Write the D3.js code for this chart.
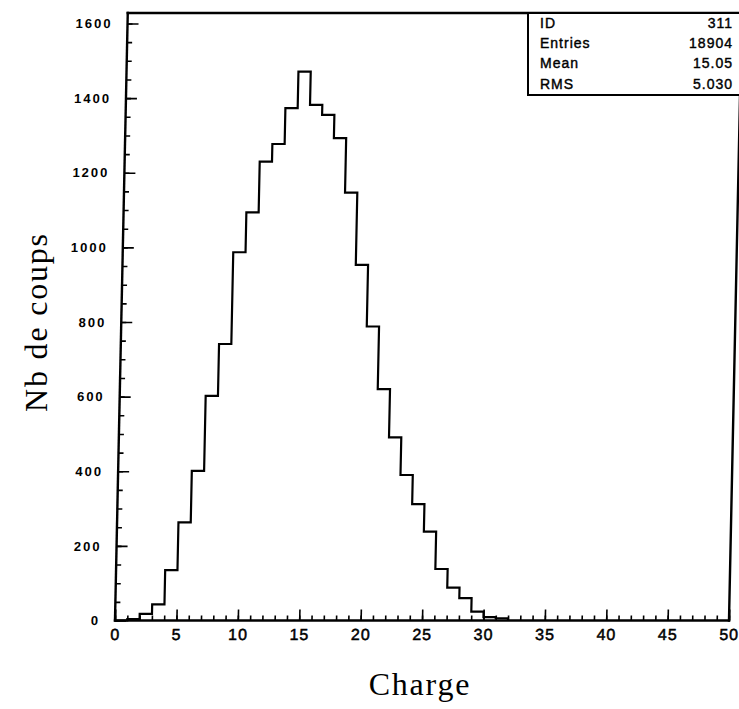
<!DOCTYPE html>
<html>
<head>
<meta charset="utf-8">
<script src="https://cdn.jsdelivr.net/npm/d3@7"></script>
<style>
  body { margin: 0; background: #fff; }
  svg { display: block; }
</style>
</head>
<body>
<svg id="chart" width="739" height="709"></svg>
<script>
// histogram of charge, bins of width 1 starting at 0
var binStart = 0,
    binWidth = 1;
var counts = [0, 4, 18, 43, 135, 263, 401, 602, 741, 987,
              1094, 1230, 1277, 1373, 1471, 1382, 1355, 1293, 1147, 953,
              788, 620, 491, 390, 312, 238, 138, 88, 60, 24,
              9, 6];
var xTicks = [0, 5, 10, 15, 20, 25, 30, 35, 40, 45, 50];
var yTicks = [0, 200, 400, 600, 800, 1000, 1200, 1400, 1600];
var statLabels = ["ID", "Entries", "Mean", "RMS"];
var statValues = ["311", "18904", "15.05", "5.030"];
var xTitle = "Charge",
    yTitle = "Nb de coups";

var svg = d3.select("#chart");
svg.append("rect").attr("width", 739).attr("height", 709).attr("fill", "#fff");

var x = d3.scaleLinear().domain([0, 50]).range([115, 729]);
var y = d3.scaleLinear().domain([0, 1600]).range([620.5, 23.5]);
var frameTop = 13;
var base = y(0);

// the scanned original leans a little to the right going up
var shear = 0.021;
function sx(px, py) { return px + shear * (base - py); }

var plot = svg.append("g")
    .attr("transform", "translate(0," + base + ") skewX(" + (-Math.atan(shear) * 180 / Math.PI) + ") translate(0," + (-base) + ")");

// minor ticks
plot.append("g")
    .attr("transform", "translate(0," + base + ")")
    .call(d3.axisBottom(x).tickValues(d3.range(0, 51, 1)).tickSize(-5).tickFormat(""))
    .call(function(g) { g.select(".domain").remove(); });
plot.append("g")
    .attr("transform", "translate(" + x(0) + ",0)")
    .call(d3.axisLeft(y).tickValues(d3.range(0, 1601, 50)).tickSize(-5).tickFormat(""))
    .call(function(g) { g.select(".domain").remove(); });

// major ticks + labels
var xAxis = plot.append("g")
    .attr("transform", "translate(0," + base + ")")
    .call(d3.axisBottom(x).tickValues(xTicks).tickSize(-11).tickPadding(8).tickFormat(d3.format("d")))
    .call(function(g) { g.select(".domain").remove(); });
xAxis.selectAll("text")
    .attr("font-family", "Liberation Sans, Arial, sans-serif")
    .attr("font-size", 16)
    .attr("letter-spacing", 1)
    .attr("fill", "#000")
    .attr("stroke", "#000")
    .attr("stroke-width", 0.5);

var yAxis = plot.append("g")
    .attr("transform", "translate(" + x(0) + ",0)")
    .call(d3.axisLeft(y).tickValues(yTicks).tickSize(-11).tickPadding(15).tickFormat(d3.format("d")))
    .call(function(g) { g.select(".domain").remove(); });
yAxis.selectAll("text")
    .attr("font-family", "Liberation Sans, Arial, sans-serif")
    .attr("font-size", 13)
    .attr("font-weight", "bold")
    .attr("letter-spacing", 2)
    .attr("fill", "#000");

plot.selectAll(".tick line").attr("stroke", "#000").attr("stroke-width", 1.6);

// histogram outline
var steps = counts.map(function(c, i) { return { e: binStart + i * binWidth, v: c }; });
steps.push({ e: binStart + counts.length * binWidth, v: 0 });

var line = d3.line()
    .x(function(d) { return x(d.e); })
    .y(function(d) { return y(d.v); })
    .curve(d3.curveStepAfter);

plot.append("path")
    .datum(steps)
    .attr("d", line)
    .attr("fill", "none")
    .attr("stroke", "#000")
    .attr("stroke-width", 2.2);

// frame, drawn in page coordinates with the same lean
var x0 = x(0), x1 = x(50);
var frame = svg.append("g")
    .attr("stroke", "#000")
    .attr("stroke-width", 2.4)
    .attr("stroke-linecap", "square");
frame.append("line")
    .attr("x1", x0).attr("y1", base)
    .attr("x2", x1).attr("y2", base);
frame.append("line")
    .attr("x1", x0).attr("y1", base)
    .attr("x2", sx(x0, frameTop)).attr("y2", frameTop);
frame.append("line")
    .attr("x1", x1).attr("y1", base)
    .attr("x2", sx(x1, frameTop)).attr("y2", frameTop);
frame.append("line")
    .attr("x1", sx(x0, frameTop)).attr("y1", frameTop)
    .attr("x2", 739).attr("y2", frameTop);

// stats box
var box = svg.append("g");
box.append("rect")
    .attr("x", 528)
    .attr("y", frameTop)
    .attr("width", 230)
    .attr("height", 82)
    .attr("fill", "#fff")
    .attr("stroke", "#000")
    .attr("stroke-width", 2);

statLabels.forEach(function(lab, i) {
  var by = 27.5 + i * 20.4;
  box.append("text")
      .attr("x", 540).attr("y", by)
      .attr("font-family", "Liberation Sans, Arial, sans-serif")
      .attr("font-size", 14)
      .attr("letter-spacing", 1)
      .attr("stroke", "#000")
      .attr("stroke-width", 0.4)
      .text(lab);
  box.append("text")
      .attr("x", 733).attr("y", by)
      .attr("text-anchor", "end")
      .attr("font-family", "Liberation Sans, Arial, sans-serif")
      .attr("font-size", 14)
      .attr("letter-spacing", 1)
      .attr("stroke", "#000")
      .attr("stroke-width", 0.4)
      .text(statValues[i]);
});

// axis titles
svg.append("text")
    .attr("x", 420).attr("y", 695)
    .attr("text-anchor", "middle")
    .attr("font-family", "Liberation Serif, Times New Roman, serif")
    .attr("font-size", 32)
    .attr("letter-spacing", 1.8)
    .text(xTitle);

svg.append("text")
    .attr("transform", "translate(47,322) rotate(-90)")
    .attr("text-anchor", "middle")
    .attr("font-family", "Liberation Serif, Times New Roman, serif")
    .attr("font-size", 32)
    .attr("letter-spacing", 1.8)
    .text(yTitle);
</script>
</body>
</html>
